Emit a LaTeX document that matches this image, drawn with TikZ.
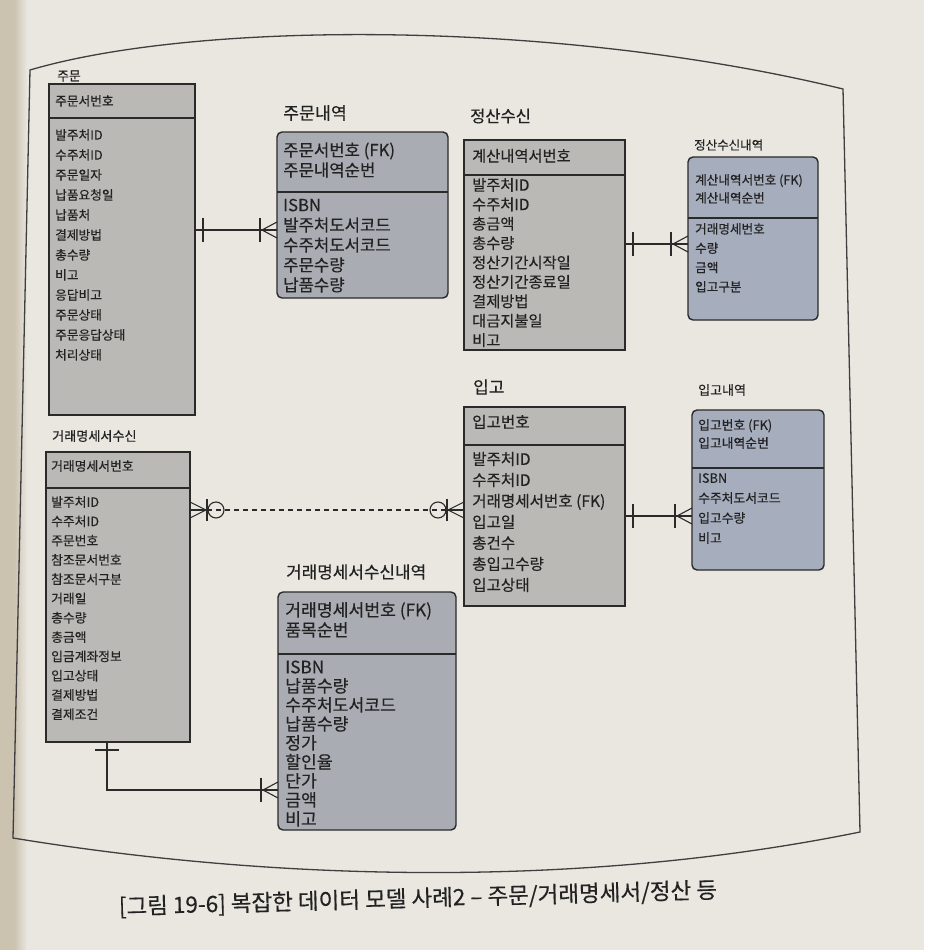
\documentclass[tikz,border=0pt]{standalone}
\usepackage{fontspec}
\setmainfont{Noto Sans CJK KR}[FakeBold=0.35]
\usetikzlibrary{calc}
\definecolor{pagebg}{HTML}{E9E7E0}
\definecolor{spine}{HTML}{CBC2B0}
\definecolor{linec}{HTML}{2A2A2A}
\definecolor{txtc}{HTML}{222222}
\definecolor{grayA}{HTML}{BAB9B6}
\definecolor{blueA}{HTML}{A9ACB3}
\definecolor{blueB}{HTML}{A6ADBD}
\newcommand{\fsz}[2]{\fontsize{#1}{#2}\selectfont}
\newcommand{\hx}{\vphantom{가}}
\tikzset{
  ent/.style={draw=linec, line width=1.4pt, inner sep=0pt, outer sep=0pt, anchor=north west},
  kid/.style={ent, rounded corners=5pt},
  txt/.style={anchor=north west, inner sep=0pt, align=left, text=txtc},
  ttl/.style={anchor=west, inner sep=0pt, text=txtc},
  rel/.style={draw=linec, line width=1.1pt},
  divl/.style={draw=linec, line width=1.2pt},
  erMany/.pic={\draw[rel] (0,-8) -- (15,0) -- (0,8); \draw[rel] (0,0) -- (17,0); \draw[rel] (17,-12) -- (17,12);},
  erOne/.pic={\draw[rel] (8,-12) -- (8,12);},
  erZMany/.pic={\draw[rel] (0,-8) -- (16,0) -- (0,8); \draw[rel] (0,0) -- (17,0); \draw[rel] (17,-11) -- (17,11); \draw[rel] (26,0) circle[radius=8pt];},
}
\begin{document}
\begin{tikzpicture}[x=1pt,y=-1pt]
\useasboundingbox (0,0) rectangle (924,950);
\fill[pagebg] (0,0) rectangle (924,950);
\fill[spine] (0,0) rectangle (14,950);
\shade[left color=spine, right color=pagebg] (14,0) rectangle (27,950);

% frame
\draw[draw=linec!90, line width=1.3pt] (30,70) .. controls (200,20) and (560,20) .. (843,89) -- (860,832) .. controls (600,885) and (300,885) .. (13,838) -- cycle;

% ---------- 주문
\node[ttl, font=\fsz{12.8}{16}] (t1) at (57,76) {주문};
\node[ent, fill=grayA, minimum width=146, minimum height=331] (jumun) at (49,84) {};
\draw[divl] (jumun.west |- 0,118) -- (jumun.east |- 0,118);
\node[txt, font=\fsz{12.7}{20}] (jumunK) at (55,95) {\hx 주문서번호};
\node[txt, font=\fsz{12.7}{20}] (jumunA) at (55,129) {\hx 발주처ID\\수주처ID\\주문일자\\납품요청일\\납품처\\결제방법\\총수량\\비고\\응답비고\\주문상태\\주문응답상태\\처리상태};

% ---------- 주문내역
\node[ttl, font=\fsz{17.3}{20}] (t2) at (283,113) {주문내역};
\node[kid, fill=blueA, minimum width=171, minimum height=166] (jnae) at (277,132) {};
\draw[divl] (jnae.west |- 0,192) -- (jnae.east |- 0,192);
\node[txt, font=\fsz{16.7}{20}] (jnaeK) at (283,142.2) {\hx 주문서번호 (FK)\\주문내역순번};
\node[txt, font=\fsz{16.7}{20}] (jnaeA) at (283,197.2) {\hx ISBN\\발주처도서코드\\수주처도서코드\\주문수량\\납품수량};

% ---------- 정산수신
\node[ttl, font=\fsz{16.5}{20}] (t3) at (470,116) {정산수신};
\node[ent, fill=grayA, minimum width=161, minimum height=210] (jsu) at (464,140) {};
\draw[divl] (jsu.west |- 0,175) -- (jsu.east |- 0,175);
\node[txt, font=\fsz{15.3}{19.4}] (jsuK) at (472,148.8) {\hx 계산내역서번호};
\node[txt, font=\fsz{15.3}{19.4}] (jsuA) at (472,177.8) {\hx 발주처ID\\수주처ID\\총금액\\총수량\\정산기간시작일\\정산기간종료일\\결제방법\\대금지불일\\비고};

% ---------- 정산수신내역
\node[ttl, font=\fsz{12.5}{16}] (t4) at (694,145) {정산수신내역};
\node[kid, fill=blueB, minimum width=130, minimum height=163] (jsn) at (688,157) {};
\draw[divl] (jsn.west |- 0,218) -- (jsn.east |- 0,218);
\node[txt, font=\fsz{12.6}{18}] (jsnK) at (695,174) {\hx 계산내역서번호 (FK)\\계산내역순번};
\node[txt, font=\fsz{12.6}{19.3}] (jsnA) at (695,223) {\hx 거래명세번호\\수량\\금액\\입고구분};

% ---------- 입고
\node[ttl, font=\fsz{17}{20}] (t5) at (473,387) {입고};
\node[ent, fill=grayA, minimum width=161, minimum height=199] (ipgo) at (464,407) {};
\draw[divl] (ipgo.west |- 0,445) -- (ipgo.east |- 0,445);
\node[txt, font=\fsz{15.6}{21}] (ipgoK) at (472,414.7) {\hx 입고번호};
\node[txt, font=\fsz{15.6}{21}] (ipgoA) at (472,451.7) {\hx 발주처ID\\수주처ID\\거래명세서번호 (FK)\\입고일\\총건수\\총입고수량\\입고상태};

% ---------- 입고내역
\node[ttl, font=\fsz{13}{16}] (t6) at (698,390) {입고내역};
\node[kid, fill=blueB, minimum width=132, minimum height=160] (ipn) at (692,410) {};
\draw[divl] (ipn.west |- 0,468) -- (ipn.east |- 0,468);
\node[txt, font=\fsz{12.8}{18}] (ipnK) at (698,419) {\hx 입고번호 (FK)\\입고내역순번};
\node[txt, font=\fsz{12.8}{20}] (ipnA) at (698,472) {\hx ISBN\\수주처도서코드\\입고수량\\비고};

% ---------- 거래명세서수신
\node[ttl, font=\fsz{13.1}{16}] (t7) at (52,436) {거래명세서수신};
\node[ent, fill=grayA, minimum width=144, minimum height=290] (gsu) at (46,452) {};
\draw[divl] (gsu.west |- 0,488) -- (gsu.east |- 0,488);
\node[txt, font=\fsz{12.8}{19.3}] (gsuK) at (51,460) {\hx 거래명세서번호};
\node[txt, font=\fsz{12.8}{19.3}] (gsuA) at (51,496) {\hx 발주처ID\\수주처ID\\주문번호\\참조문서번호\\참조문서구분\\거래일\\총수량\\총금액\\입금계좌정보\\입고상태\\결제방법\\결제조건};

% ---------- 거래명세서수신내역
\node[ttl, font=\fsz{16.9}{20}] (t8) at (286,572) {거래명세서수신내역};
\node[kid, fill=blueA, minimum width=178, minimum height=238] (gsn) at (278,592) {};
\draw[divl] (gsn.west |- 0,654) -- (gsn.east |- 0,654);
\node[txt, font=\fsz{17.2}{20}] (gsnK) at (285,601.9) {\hx 거래명세서번호 (FK)\\품목순번};
\node[txt, font=\fsz{17.2}{19}] (gsnA) at (285,658.9) {\hx ISBN\\납품수량\\수주처도서코드\\납품수량\\정가\\할인율\\단가\\금액\\비고};

% ---------- relationships
% 주문 -> 주문내역
\draw[rel] (jumun.east |- 0,230) coordinate (r1a) -- (jnae.west |- 0,230) coordinate (r1b);
\pic at (r1a) {erOne};
\pic[rotate=180] at (r1b) {erMany};
% 정산수신 -> 정산수신내역
\draw[rel] (jsu.east |- 0,244) coordinate (r2a) -- (jsn.west |- 0,244) coordinate (r2b);
\pic at (r2a) {erOne};
\pic[rotate=180] at (r2b) {erMany};
% 입고 -> 입고내역
\draw[rel] (ipgo.east |- 0,516) coordinate (r3a) -- (ipn.west |- 0,516) coordinate (r3b);
\pic at (r3a) {erOne};
\pic[rotate=180] at (r3b) {erMany};
% 거래명세서수신 - 입고 (dashed)
\coordinate (r4a) at (gsu.east |- 0,510);
\coordinate (r4b) at (ipgo.west |- 0,510);
\draw[rel, dash pattern=on 5pt off 4pt] ($(r4a)+(17,0)$) -- ($(r4b)+(-17,0)$);
\pic at (r4a) {erZMany};
\pic[rotate=180] at (r4b) {erZMany};
% 거래명세서수신 -> 거래명세서수신내역
\draw[rel] (gsu.south -| 107,0) coordinate (r5a) |- (gsn.west |- 0,790) coordinate (r5b);
\pic[rotate=-90] at (r5a) {erOne};
\pic[rotate=180] at (r5b) {erMany};

% caption
\node[font=\fsz{22.5}{26}, rotate=1.6, text=txtc, inner sep=0pt] (cap) at (418,899) {[그림 19-6] 복잡한 데이터 모델 사례2 – 주문/거래명세서/정산 등};
\end{tikzpicture}
\end{document}
